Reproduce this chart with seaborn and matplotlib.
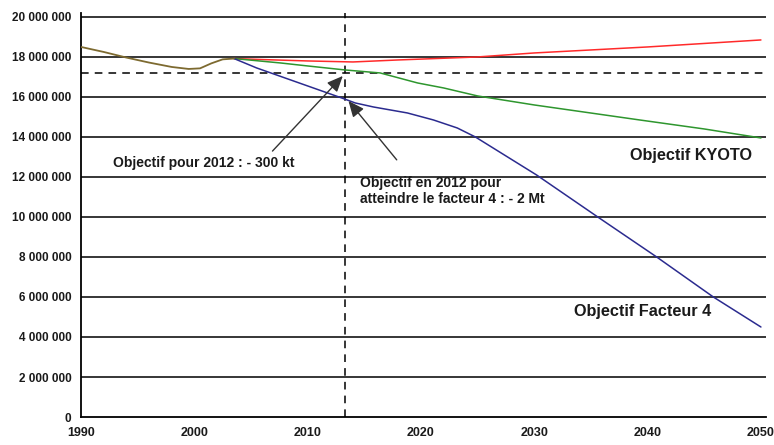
import numpy as np
import pandas as pd
import matplotlib
matplotlib.use("Agg")
import matplotlib.pyplot as plt
import seaborn as sns

# historique commun 1990-2003
annees_hist = [1990, 1992, 1994, 1996, 1998, 1999.5, 2000.5, 2001.5, 2002.5, 2003.5]
valeurs_hist = [18.5, 18.25, 17.97, 17.72, 17.5, 17.4, 17.43, 17.68, 17.88, 17.92]

# tendance (rouge)
annees_tend = [2003.5, 2006, 2010, 2014, 2018, 2025, 2030, 2040, 2050]
valeurs_tend = [17.92, 17.87, 17.8, 17.75, 17.85, 18.0, 18.2, 18.5, 18.85]

# objectif Kyoto (vert)
annees_kyoto = [2003.5, 2007.6, 2010, 2013.3, 2016.4, 2019.7, 2022, 2025, 2030, 2039.3, 2045, 2050]
valeurs_kyoto = [17.92, 17.7, 17.55, 17.35, 17.2, 16.7, 16.45, 16.05, 15.6, 14.85, 14.4, 13.95]

# objectif facteur 4 (bleu)
annees_f4 = [2003.5, 2005.5, 2008, 2010, 2013.0, 2014.2, 2015.8, 2018.8, 2021.1, 2023.2,
             2024.8, 2030.2, 2035.6, 2040.8, 2045.8, 2050]
valeurs_f4 = [17.92, 17.45, 16.95, 16.55, 15.95, 15.7, 15.5, 15.2, 14.85, 14.45,
              14.0, 12.1, 10.0, 8.0, 6.0, 4.5]

annee_2012 = 2013.3
objectif_2012 = 17.18e6

x_ticks = [1990, 2000, 2010, 2020, 2030, 2040, 2050]
y_ticks = [0, 2e6, 4e6, 6e6, 8e6, 10e6, 12e6, 14e6, 16e6, 18e6, 20e6]

rows = []
for nom, xs, ys in [("tendance", annees_tend, valeurs_tend),
                    ("kyoto", annees_kyoto, valeurs_kyoto),
                    ("facteur4", annees_f4, valeurs_f4)]:
    for a, v in zip(xs, ys):
        rows.append({"scenario": nom, "annee": a, "valeur": v * 1e6})
df = pd.DataFrame(rows)
hist = pd.DataFrame({"annee": annees_hist, "valeur": np.array(valeurs_hist) * 1e6})

sns.set_style("white")
plt.rcParams['font.family'] = ['Liberation Sans', 'DejaVu Sans']

fig = plt.figure(figsize=(7.74, 4.45), dpi=100)
ax = fig.add_axes([0.1047, 0.0629, 0.885, 0.908])

for y in y_ticks[1:]:
    ax.axhline(y, color="black", lw=1.1, zorder=1)

sns.lineplot(data=df, x="annee", y="valeur", hue="scenario",
             palette={"tendance": "#ff2a2a", "kyoto": "#2e962e", "facteur4": "#2b2b8f"},
             legend=False, lw=1.1, ax=ax, zorder=3)
sns.lineplot(data=hist, x="annee", y="valeur", color="#7d6a30", lw=1.3, ax=ax, zorder=4)

ax.axvline(annee_2012, color="black", lw=1.1, ls=(0, (5, 4)), zorder=2)
ax.axhline(objectif_2012, color="black", lw=1.1, ls=(0, (5, 4)), zorder=2)

ax.set_xlim(1990, 2050.45)
ax.set_ylim(0, 20.2e6)
ax.set_xticks(x_ticks)
ax.set_yticks(y_ticks)
ax.set_yticklabels([f"{int(v):,}".replace(",", " ") for v in y_ticks])
ax.set_xlabel("")
ax.set_ylabel("")
for s in ["top", "right"]:
    ax.spines[s].set_visible(False)
for s in ["left", "bottom"]:
    ax.spines[s].set_color("black")
    ax.spines[s].set_linewidth(1.3)
ax.tick_params(axis="both", which="both", direction="out", length=4, width=1,
               color="black", labelsize=8.5, pad=3)
ax.tick_params(axis="x", labelsize=9)
for lab in ax.get_xticklabels() + ax.get_yticklabels():
    lab.set_fontweight("bold")
    lab.set_color("#1a1a1a")

txt = dict(fontsize=10, fontweight="bold", color="#1a1a1a")
fleche = dict(arrowstyle="-|>,head_length=0.8,head_width=0.35", color="#333333", lw=1,
              mutation_scale=12, shrinkA=0, shrinkB=0)
ax.annotate("Objectif pour 2012 : - 300 kt", xy=(2013.1, 17.05e6), xytext=(1992.8, 12.7e6),
            ha="left", va="center", **txt,
            arrowprops=dict(fleche, relpos=(0.88, 1.35)))
ax.annotate("Objectif en 2012 pour\natteindre le facteur 4 : - 2 Mt", xy=(2013.6, 15.8e6),
            xytext=(2014.6, 11.3e6), ha="left", va="center", linespacing=1.15, **txt,
            arrowprops=dict(fleche, relpos=(0.2, 1.55)))
ax.text(2043.8, 13.05e6, "Objectif KYOTO", ha="center", va="center",
        fontsize=11.7, fontweight="bold", color="#1a1a1a")
ax.text(2039.6, 5.25e6, "Objectif Facteur 4", ha="center", va="center",
        fontsize=11.7, fontweight="bold", color="#1a1a1a")

fig.savefig("out.png", dpi=100)
